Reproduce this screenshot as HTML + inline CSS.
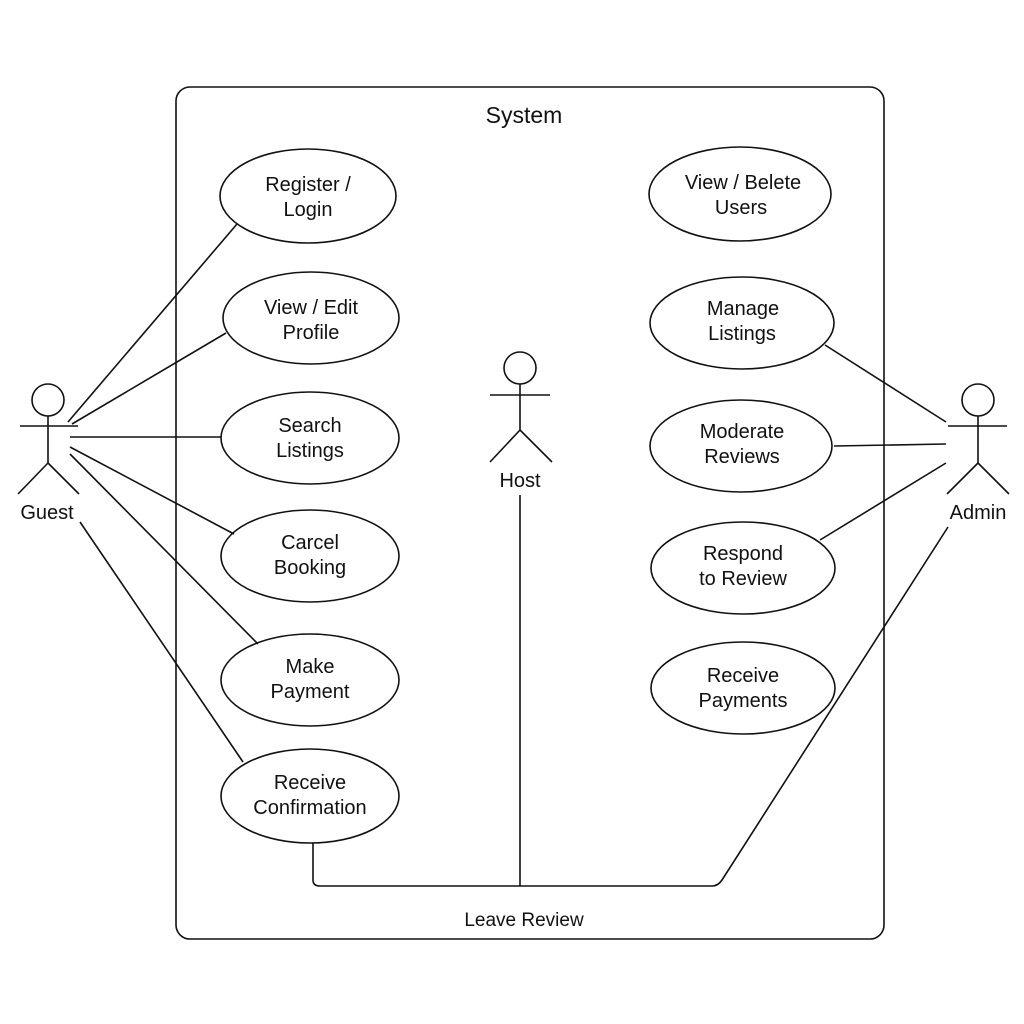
<!DOCTYPE html>
<html><head><meta charset="utf-8"><style>
html,body{margin:0;padding:0;background:#fff;}
svg{display:block;}
text{font-family:"Liberation Sans",sans-serif;fill:#111;text-anchor:middle;}
</style></head><body>
<svg width="1024" height="1024" viewBox="0 0 1024 1024" xmlns="http://www.w3.org/2000/svg">
<rect x="0" y="0" width="1024" height="1024" fill="#fff"/>
<g fill="none" stroke="#111" stroke-width="1.6">
<rect x="176" y="87" width="708" height="852" rx="14"/>
<!-- guest -->
<circle cx="48" cy="400" r="16"/>
<line x1="20" y1="426" x2="78" y2="426"/>
<line x1="48" y1="416" x2="48" y2="463"/>
<line x1="48" y1="463" x2="18" y2="494"/>
<line x1="48" y1="463" x2="79" y2="494"/>
<!-- admin -->
<circle cx="978" cy="400" r="16"/>
<line x1="948" y1="426" x2="1007" y2="426"/>
<line x1="978" y1="416" x2="978" y2="463"/>
<line x1="978" y1="463" x2="947" y2="494"/>
<line x1="978" y1="463" x2="1009" y2="494"/>
<!-- host -->
<circle cx="520" cy="368" r="16"/>
<line x1="490" y1="395" x2="550" y2="395"/>
<line x1="520" y1="384" x2="520" y2="430"/>
<line x1="520" y1="430" x2="490" y2="462"/>
<line x1="520" y1="430" x2="552" y2="462"/>
<line x1="520" y1="495" x2="520" y2="886"/>
<!-- guest lines -->
<line x1="68" y1="422" x2="237" y2="224"/>
<line x1="72" y1="424" x2="226" y2="333"/>
<line x1="70" y1="437" x2="221" y2="437"/>
<line x1="70" y1="447" x2="234" y2="534"/>
<line x1="70" y1="454" x2="258" y2="644"/>
<line x1="80" y1="522" x2="243" y2="762"/>
<path d="M313 843 L313 880 Q313 886 320 886 L712 886 Q718 886 722 880 L948 527"/>
<!-- admin lines -->
<line x1="825" y1="345" x2="946" y2="422"/>
<line x1="834" y1="446" x2="946" y2="444"/>
<line x1="820" y1="540" x2="946" y2="463"/>
<!-- ellipses -->
<ellipse cx="308" cy="196" rx="88" ry="47"/>
<ellipse cx="311" cy="318" rx="88" ry="46"/>
<ellipse cx="310" cy="438" rx="89" ry="46"/>
<ellipse cx="310" cy="556" rx="89" ry="46"/>
<ellipse cx="310" cy="680" rx="89" ry="46"/>
<ellipse cx="310" cy="796" rx="89" ry="47"/>
<ellipse cx="740" cy="194" rx="91" ry="47"/>
<ellipse cx="742" cy="323" rx="92" ry="46"/>
<ellipse cx="741" cy="446" rx="91" ry="46"/>
<ellipse cx="743" cy="568" rx="92" ry="46"/>
<ellipse cx="743" cy="688" rx="92" ry="46"/>
</g>
<g font-size="20">
<text x="524" y="123" font-size="23">System</text>
<text x="524" y="926" font-size="19">Leave Review</text>
<text x="47" y="519">Guest</text>
<text x="978" y="519">Admin</text>
<text x="520" y="487">Host</text>
<text x="308" y="191">Register /</text><text x="308" y="216">Login</text>
<text x="311" y="314">View / Edit</text><text x="311" y="339">Profile</text>
<text x="310" y="432">Search</text><text x="310" y="457">Listings</text>
<text x="310" y="549">Carcel</text><text x="310" y="574">Booking</text>
<text x="310" y="673">Make</text><text x="310" y="698">Payment</text>
<text x="310" y="789">Receive</text><text x="310" y="814">Confirmation</text>
<text x="743" y="189">View / Belete</text><text x="741" y="214">Users</text>
<text x="743" y="315">Manage</text><text x="742" y="340">Listings</text>
<text x="742" y="438">Moderate</text><text x="742" y="463">Reviews</text>
<text x="743" y="560">Respond</text><text x="743" y="585">to Review</text>
<text x="743" y="682">Receive</text><text x="743" y="707">Payments</text>
</g>
</svg>
</body></html>
